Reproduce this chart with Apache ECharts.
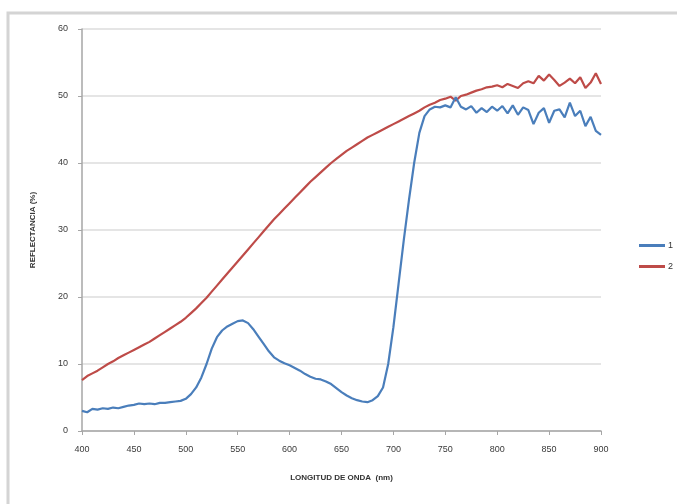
<!DOCTYPE html>
<html>
<head>
<meta charset="utf-8">
<script src="https://cdn.jsdelivr.net/npm/echarts@6/dist/echarts.min.js"></script>
<style>
  html, body { margin: 0; padding: 0; background: #fff; }
  #chart { width: 677px; height: 504px; }
</style>
</head>
<body>
<div id="chart"></div>
<script>
// Wavelength samples (nm), 5 nm step
const wavelengths = [];
for (let w = 400; w <= 900; w += 5) wavelengths.push(w);

// Reflectance (%) of sample 1
const reflect1 = [
  3.0, 2.8, 3.3, 3.2, 3.4, 3.3, 3.5, 3.4, 3.6, 3.8,
  3.9, 4.1, 4.0, 4.1, 4.0, 4.2, 4.2, 4.3, 4.4, 4.5,
  4.8, 5.5, 6.5, 8.0, 10.0, 12.3, 14.0, 15.0, 15.6, 16.0,
  16.4, 16.5, 16.1, 15.2, 14.1, 13.0, 11.9, 11.0, 10.5, 10.1,
  9.8, 9.4, 9.0, 8.5, 8.1, 7.8, 7.7, 7.4, 7.0, 6.4,
  5.8, 5.3, 4.9, 4.6, 4.4, 4.3, 4.6, 5.2, 6.5, 10.0,
  15.5, 22.0, 28.5, 34.5, 40.0, 44.5, 47.0, 48.0, 48.4, 48.3,
  48.6, 48.3, 49.8, 48.4, 48.0, 48.5, 47.5, 48.2, 47.6, 48.4,
  47.8, 48.5, 47.4, 48.6, 47.2, 48.3, 47.9, 45.8, 47.5, 48.2,
  46.0, 47.8, 48.0, 46.8, 49.0, 47.0, 47.8, 45.5, 46.9, 44.8,
  44.2
];

// Reflectance (%) of sample 2
const reflect2 = [
  7.6, 8.2, 8.6, 9.0, 9.5, 10.0, 10.4, 10.9, 11.3, 11.7,
  12.1, 12.5, 12.9, 13.3, 13.8, 14.3, 14.8, 15.3, 15.8, 16.3,
  16.9, 17.6, 18.3, 19.1, 19.9, 20.8, 21.7, 22.6, 23.5, 24.4,
  25.3, 26.2, 27.1, 28.0, 28.9, 29.8, 30.7, 31.6, 32.4, 33.2,
  34.0, 34.8, 35.6, 36.4, 37.2, 37.9, 38.6, 39.3, 40.0, 40.6,
  41.2, 41.8, 42.3, 42.8, 43.3, 43.8, 44.2, 44.6, 45.0, 45.4,
  45.8, 46.2, 46.6, 47.0, 47.4, 47.8, 48.3, 48.7, 49.0, 49.4,
  49.6, 49.9, 49.3, 50.0, 50.2, 50.5, 50.8, 51.0, 51.3, 51.4,
  51.6, 51.3, 51.8, 51.5, 51.2, 51.9, 52.2, 51.9, 53.0, 52.3,
  53.2, 52.4, 51.5, 52.0, 52.6, 51.9, 52.8, 51.2, 52.0, 53.4,
  51.8
];

const seriesNames = ['1', '2'];
const seriesColors = ['#4a7ebb', '#be4b48'];

const pairs = vals => wavelengths.map((w, i) => [w, vals[i]]);

const chart = echarts.init(document.getElementById('chart'), null, { renderer: 'canvas' });

chart.setOption({
  animation: false,
  backgroundColor: '#fff',
  grid: { left: 82, right: 76, top: 29, bottom: 73 },
  graphic: [{
    type: 'rect',
    shape: { x: 8, y: 13, width: 720, height: 540 },
    style: { fill: 'none', stroke: '#d4d4d4', lineWidth: 3 },
    silent: true
  }],
  legend: {
    orient: 'vertical',
    left: 634,
    top: 236,
    itemGap: 12,
    itemWidth: 26,
    itemHeight: 3,
    icon: 'rect',
    textStyle: { fontFamily: 'Liberation Sans', fontSize: 9, color: '#333', padding: [0, 0, 0, -2] },
    data: seriesNames
  },
  xAxis: {
    type: 'value',
    min: 400, max: 900, interval: 50,
    name: 'LONGITUD DE ONDA  (nm)',
    nameLocation: 'middle',
    nameGap: 43,
    nameTextStyle: { fontFamily: 'Liberation Sans', fontSize: 8, fontWeight: 'bold', color: '#333' },
    axisLine: { lineStyle: { color: '#a6a6a6', width: 1.5 } },
    axisTick: { show: true, length: 4, lineStyle: { color: '#a6a6a6' } },
    axisLabel: { fontFamily: 'Liberation Sans', fontSize: 9, color: '#3a3a3a', margin: 14 },
    splitLine: { show: false }
  },
  yAxis: {
    type: 'value',
    min: 0, max: 60, interval: 10,
    name: 'REFLECTANCIA (%)',
    nameLocation: 'middle',
    nameGap: 45,
    nameTextStyle: { fontFamily: 'Liberation Sans', fontSize: 8, fontWeight: 'bold', color: '#333' },
    axisLine: { show: true, lineStyle: { color: '#a6a6a6', width: 1.5 } },
    axisTick: { show: true, length: 4, lineStyle: { color: '#a6a6a6' } },
    axisLabel: { fontFamily: 'Liberation Sans', fontSize: 9, color: '#3a3a3a', margin: 14 },
    splitLine: { lineStyle: { color: '#dcdcdc', width: 1.5 } }
  },
  series: seriesNames.map((name, k) => ({
    name: name,
    type: 'line',
    data: pairs(k === 0 ? reflect1 : reflect2),
    showSymbol: false,
    smooth: false,
    lineStyle: { color: seriesColors[k], width: 2.2 },
    itemStyle: { color: seriesColors[k] },
    z: k === 0 ? 3 : 2
  }))
});
</script>
</body>
</html>
